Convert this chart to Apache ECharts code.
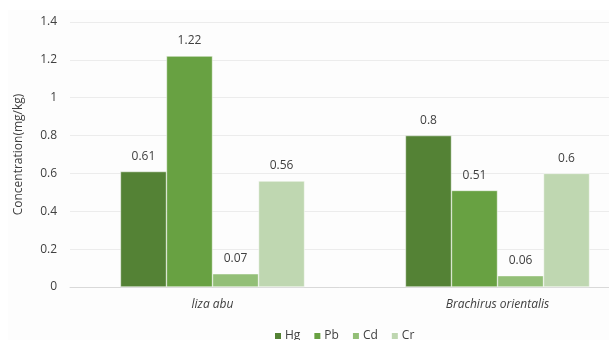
<!DOCTYPE html>
<html>
<head>
<meta charset="utf-8">
<script src="https://cdn.jsdelivr.net/npm/echarts@6/dist/echarts.min.js"></script>
<style>
  html, body { margin: 0; padding: 0; background: #ffffff; }
  #chart { width: 609px; height: 340px; }
</style>
</head>
<body>
<div id="chart"></div>
<script>
// Heavy-metal concentrations (mg/kg) in two fish species
const species = ['liza abu', 'Brachirus orientalis'];
const metals = ['Hg', 'Pb', 'Cd', 'Cr'];
const hgValues = [0.61, 0.8];
const pbValues = [1.22, 0.51];
const cdValues = [0.07, 0.06];
const crValues = [0.56, 0.6];
const yTicks = [0, 0.2, 0.4, 0.6, 0.8, 1, 1.2, 1.4];

const seriesValues = [hgValues, pbValues, cdValues, crValues];
const colors = ['#548235', '#68a142', '#93bf77', '#bfd7b1'];
const FONT = '"Open Sans", "Noto Sans", sans-serif';

const chart = echarts.init(document.getElementById('chart'), null, { renderer: 'canvas' });

chart.setOption({
  backgroundColor: '#ffffff',
  animation: false,
  textStyle: { fontFamily: FONT },
  graphic: [{
    type: 'rect',
    silent: true,
    z: -10,
    shape: { x: 8, y: 10, width: 601, height: 330 },
    style: { fill: '#fdfdfd' }
  }],
  legend: {
    data: metals,
    bottom: -7,
    left: 268,
    itemWidth: 8,
    itemHeight: 8,
    itemGap: 12,
    icon: 'rect',
    textStyle: { fontFamily: FONT, fontSize: 12, color: '#404040', padding: [0, 0, 0, -2] }
  },
  grid: {
    left: 70,
    top: 22,
    width: 570,
    height: 265,
    containLabel: false,
    outerBoundsMode: 'none'
  },
  xAxis: {
    type: 'category',
    data: species,
    axisTick: { show: false },
    axisLine: { lineStyle: { color: '#d9d9d9', width: 1 } },
    axisLabel: {
      fontFamily: FONT,
      fontStyle: 'italic',
      fontSize: 12,
      color: '#404040',
      margin: 12
    }
  },
  yAxis: {
    type: 'value',
    min: 0,
    max: 1.4,
    interval: 0.2,
    name: 'Concentration(mg/kg)',
    nameLocation: 'middle',
    nameGap: 45,
    nameRotate: 90,
    nameTextStyle: { fontFamily: FONT, fontSize: 12, color: '#404040' },
    axisLine: { show: false },
    axisTick: { show: false },
    splitLine: { lineStyle: { color: '#ececec', width: 1 } },
    axisLabel: {
      fontFamily: FONT,
      fontSize: 12,
      color: '#404040',
      margin: 13,
      formatter: v => {
        const t = yTicks.find(k => Math.abs(k - v) < 1e-9);
        return t === undefined ? '' : String(t);
      }
    }
  },
  series: metals.map((m, i) => ({
    name: m,
    type: 'bar',
    data: seriesValues[i],
    barGap: '0%',
    barCategoryGap: '35.4%',
    itemStyle: { color: colors[i], borderColor: '#ffffff', borderWidth: 0.5 },
    label: {
      show: true,
      position: 'top',
      distance: 9,
      fontFamily: FONT,
      fontSize: 12,
      color: '#404040',
      formatter: p => String(p.value)
    }
  }))
});
</script>
</body>
</html>
